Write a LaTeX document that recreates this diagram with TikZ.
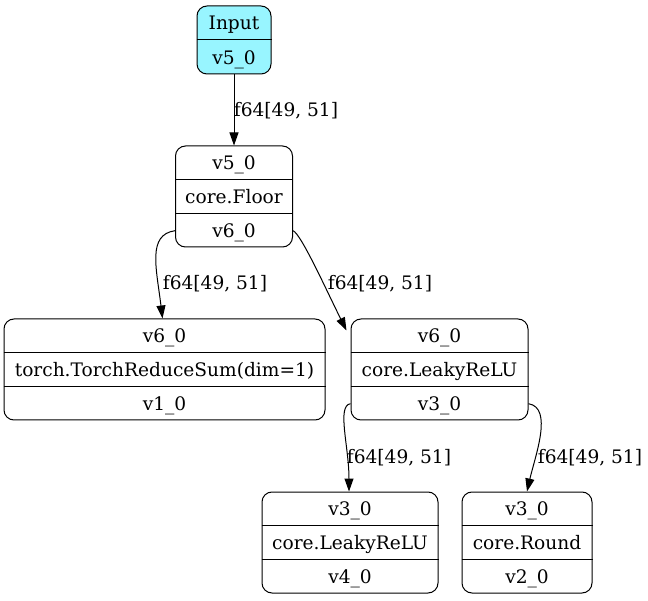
\documentclass[tikz,border=0pt]{standalone}
\usepackage{fontspec}
\setmainfont{DejaVu Serif}
\usetikzlibrary{arrows.meta,calc}
\definecolor{inputCyan}{RGB}{152,245,255}

\begin{document}
\begin{tikzpicture}[x=1pt,y=-1pt,
    rec/.style={draw,rounded corners=10pt,line width=1pt,inner sep=0pt},
    txt/.style={font=\fontsize{18.6}{21}\selectfont,inner sep=0pt,
                text height=16pt,text depth=2pt},
    lbl/.style={font=\fontsize{18.6}{21}\selectfont,inner sep=0pt,
                text height=16pt,text depth=2pt},
    edge/.style={-{Triangle[length=13pt,width=9pt]},line width=1pt},
  ]
  \useasboundingbox (0,0) rectangle (648,601);
  % input record
  \node[rec,fill=inputCyan,minimum width=74pt,minimum height=68pt] (inp) at (234,40) {};
  \draw[line width=1pt] ([yshift=-34pt]inp.north west) -- ([yshift=-34pt]inp.north east);
  \node[txt] (inp-a) at ([yshift=-17pt]inp.north) {Input};
  \node[txt] (inp-b) at ([yshift=17pt]inp.south) {v5\_0};
  % three-row records
  \foreach \nm/\cx/\ytop/\w/\ta/\tb/\tc in {
      floor/234/146/117/v5\_0/core.Floor/v6\_0,
      rsum/164.5/319/321/v6\_0/torch.TorchReduceSum(dim=1)/v1\_0,
      lrelu/439.5/319/177/v6\_0/core.LeakyReLU/v3\_0,
      lreluB/350/492/176/v3\_0/core.LeakyReLU/v4\_0,
      rnd/527/492/130/v3\_0/core.Round/v2\_0}{
    \node[rec,minimum width=\w pt,minimum height=101pt] (\nm) at (\cx,\ytop+50.5) {};
    \draw[line width=1pt] ([yshift=-33.7pt]\nm.north west) -- ([yshift=-33.7pt]\nm.north east);
    \draw[line width=1pt] ([yshift=33.7pt]\nm.south west) -- ([yshift=33.7pt]\nm.south east);
    \node[txt] (\nm-a) at ([yshift=-16.8pt]\nm.north) {\ta};
    \node[txt] (\nm-b) at (\nm.center) {\tb};
    \node[txt] (\nm-c) at ([yshift=16.8pt]\nm.south) {\tc};
  }
  % edges
  \draw[edge] (inp.south) -- (floor.north);
  \draw[edge] ([yshift=16.8pt]floor.south west) .. controls +(-28,4) and +(-6,-50) .. ([xshift=-2pt]rsum.north);
  \draw[edge] ([yshift=16.8pt]floor.south east) .. controls +(8,3) and +(-20,-40) .. ([xshift=-4pt,yshift=-12pt]lrelu.north west);
  \draw[edge] ([yshift=16.8pt]lrelu.south west) .. controls +(-14,2) and +(0,-45) .. ([xshift=-1pt]lreluB.north);
  \draw[edge] ([yshift=16.8pt]lrelu.south east) .. controls +(25,4) and +(8,-35) .. (rnd.north);
  % edge labels
  \node[lbl] (l1) at (286,110) {f64[49, 51]};
  \node[lbl] (l2) at (215,283) {f64[49, 51]};
  \node[lbl] (l3) at (380,283) {f64[49, 51]};
  \node[lbl] (l4) at (399,457) {f64[49, 51]};
  \node[lbl] (l5) at (590,457) {f64[49, 51]};
\end{tikzpicture}
\end{document}
